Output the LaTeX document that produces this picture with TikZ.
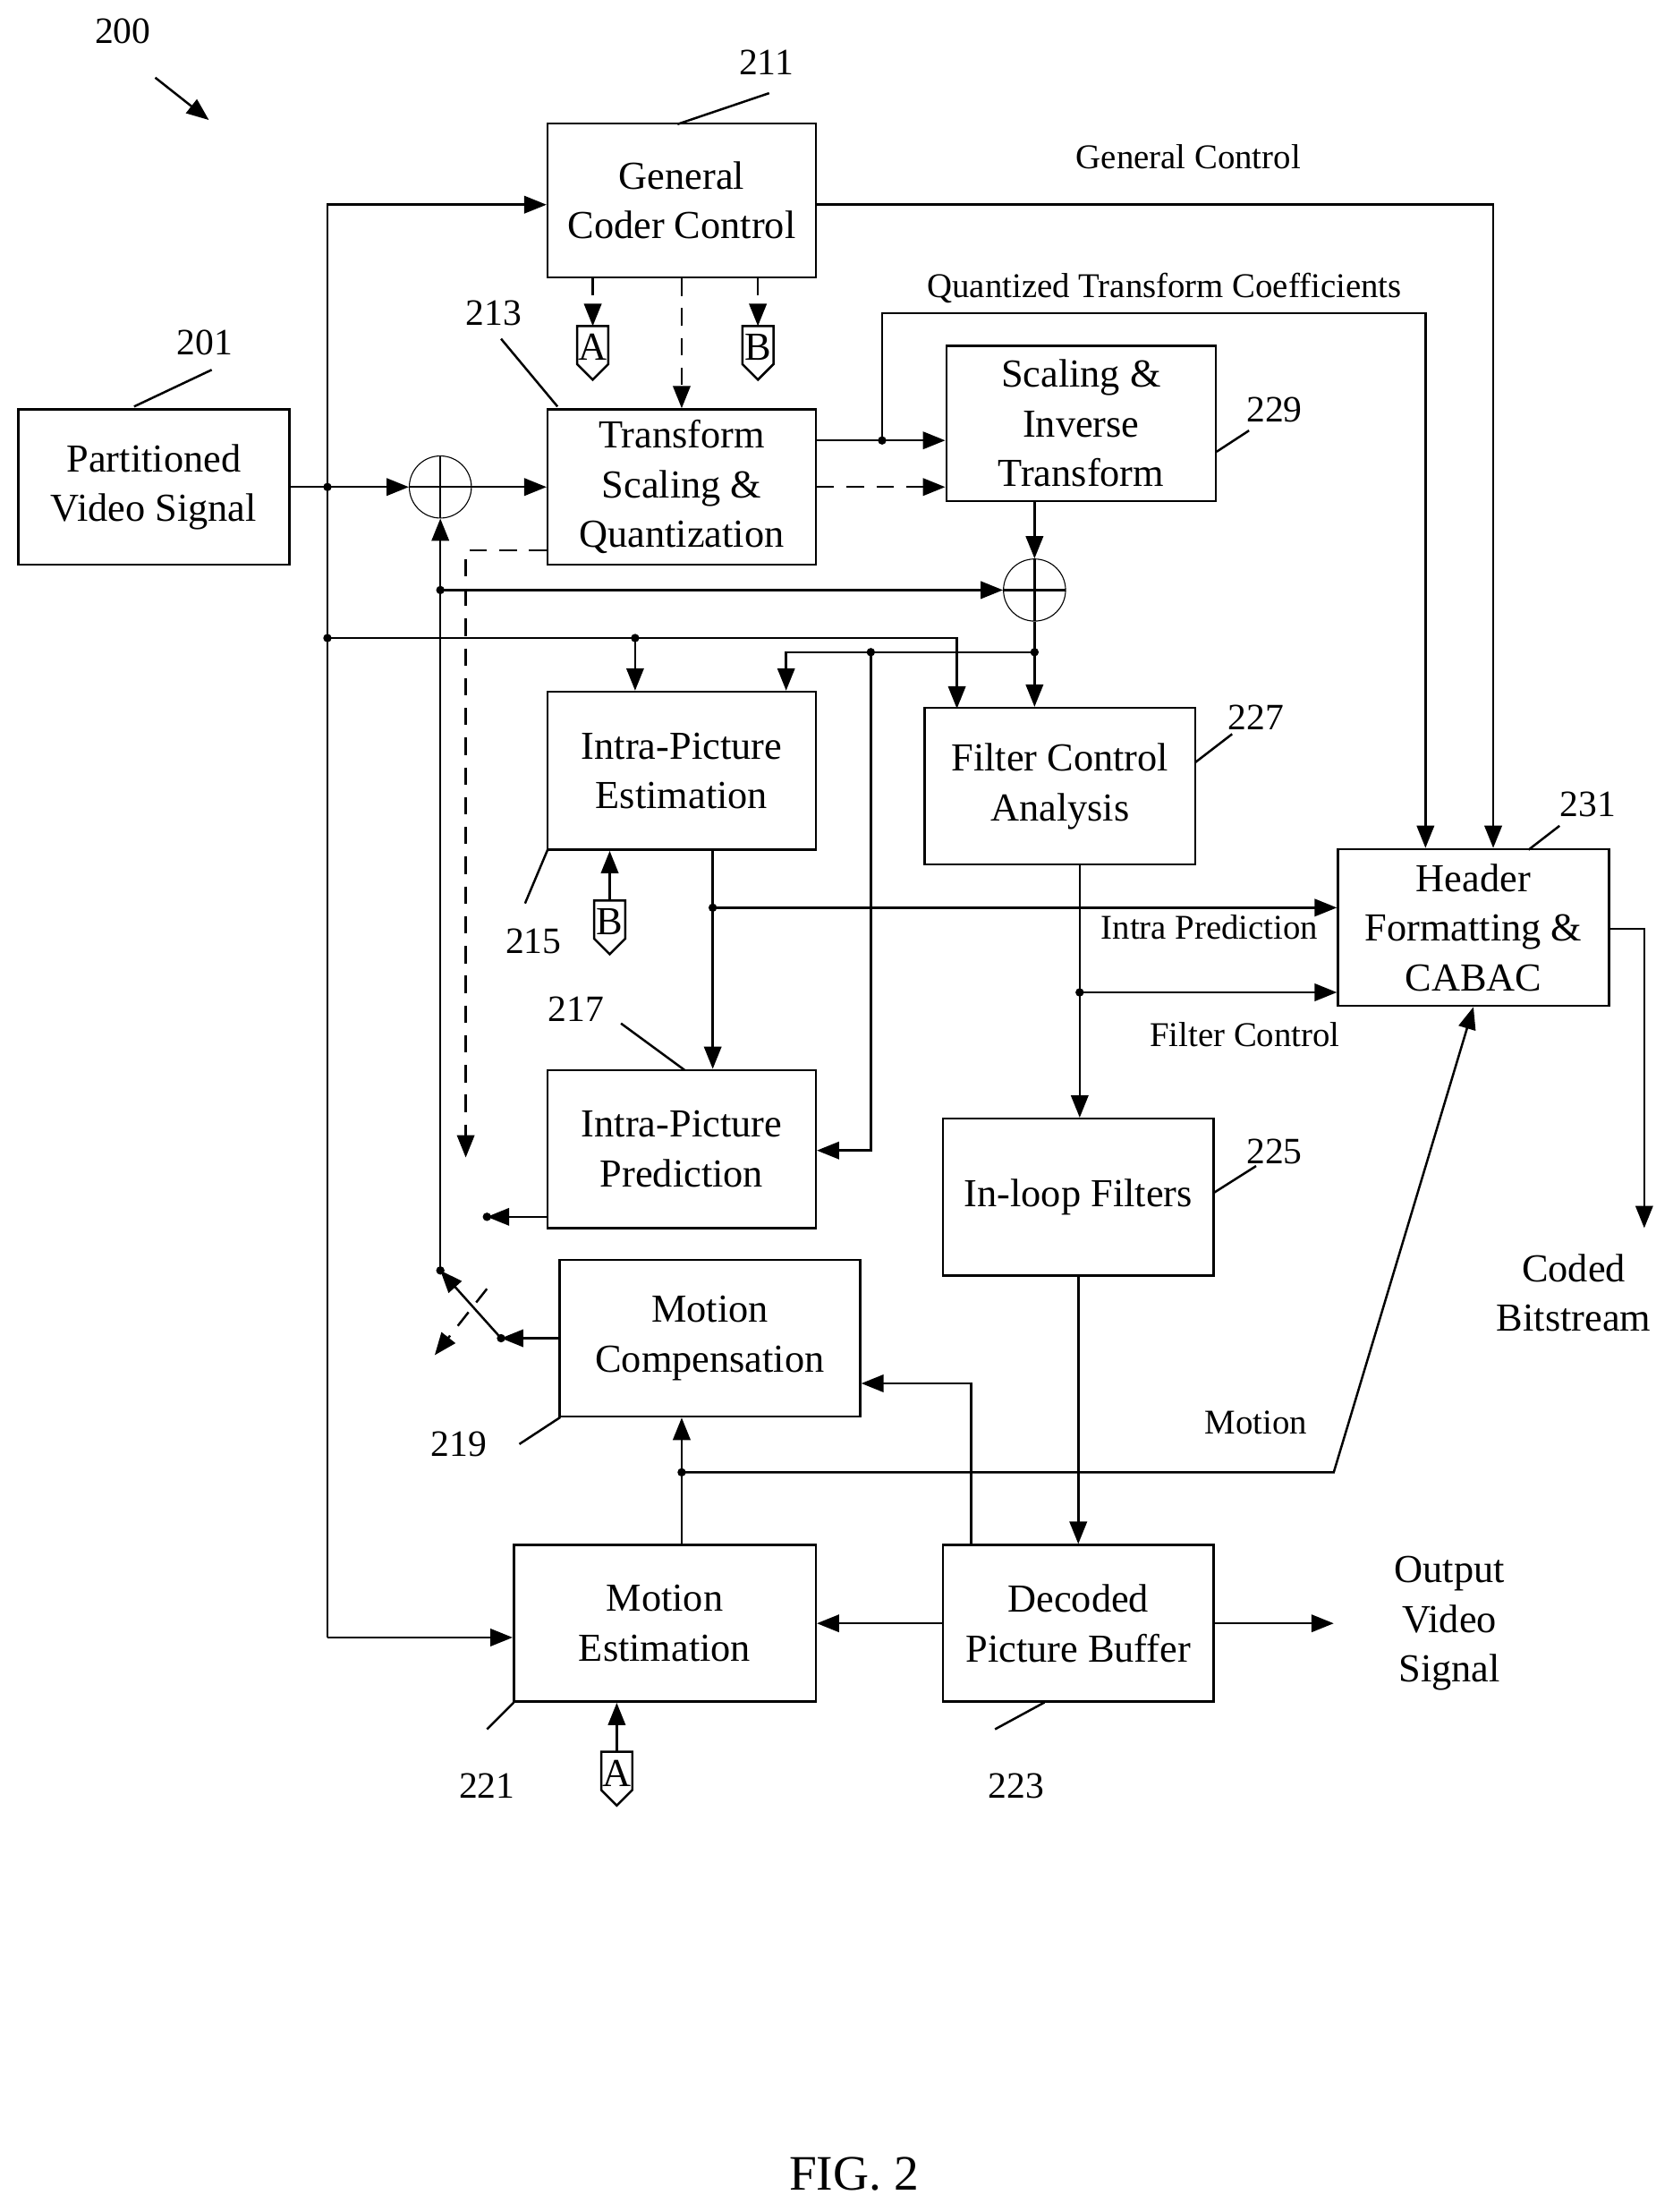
\documentclass[tikz,border=0pt]{standalone}
\usepackage{fontspec}
\setmainfont{Liberation Serif}
\usetikzlibrary{arrows.meta}

\tikzset{
  blk/.style={draw,line width=0.9pt,align=center,font=\fontsize{16}{20}\selectfont},
  lbl/.style={font=\fontsize{14}{17}\selectfont},
  ref/.style={font=\fontsize{15}{18}\selectfont},
  sig/.style={line width=0.9pt,-{Triangle[length=9pt,width=7pt]}},
  ln/.style={line width=0.9pt},
  dsh/.style={sig,dash pattern=on 7pt off 5pt},
  dot/.style={circle,fill,inner sep=1.2pt},
  sum/.style={circle,draw,thin,minimum size=0.88cm,inner sep=0pt,
    path picture={\draw[line width=0.9pt] (path picture bounding box.north) -- (path picture bounding box.south)
      (path picture bounding box.west) -- (path picture bounding box.east);}},
}
\newcommand\pent[4]{% name, letter, x, y
  \draw[line width=0.9pt] (#3-11,#4-19) -- (#3+11,#4-19) -- (#3+11,#4+8) -- (#3,#4+19) -- (#3-11,#4+8) -- cycle;
  \node[font=\fontsize{16}{18}\selectfont,inner sep=0pt] (#1) at (#3,#4-4) {#2};}

\begin{document}
\begin{tikzpicture}[x=0.02cm,y=-0.02cm]
\useasboundingbox (0,0) rectangle (1185,1567);
% blocks
\node[blk,minimum width=3.8cm,minimum height=2.18cm] (gcc) at (483,142) {General\\Coder Control};
\node[blk,minimum width=3.84cm,minimum height=2.2cm] (pvs) at (109,345) {Partitioned\\Video Signal};
\node[blk,minimum width=3.8cm,minimum height=2.2cm] (tsq) at (483,345) {Transform\\Scaling \&\\Quantization};
\node[blk,minimum width=3.82cm,minimum height=2.2cm] (sit) at (766,300) {Scaling \&\\Inverse\\Transform};
\node[blk,minimum width=3.8cm,minimum height=2.24cm] (ipe) at (483,546) {Intra-Picture\\Estimation};
\node[blk,minimum width=3.84cm,minimum height=2.22cm] (fca) at (751,557) {Filter Control\\Analysis};
\node[blk,minimum width=3.84cm,minimum height=2.22cm] (hdr) at (1044,657) {Header\\Formatting \&\\CABAC};
\node[blk,minimum width=3.8cm,minimum height=2.24cm] (ipp) at (483,814) {Intra-Picture\\Prediction};
\node[blk,minimum width=3.84cm,minimum height=2.22cm] (ilf) at (764,848) {In-loop Filters};
\node[blk,minimum width=4.26cm,minimum height=2.22cm] (mc) at (503,948) {Motion\\Compensation};
\node[blk,minimum width=4.28cm,minimum height=2.22cm] (me) at (471,1150) {Motion\\Estimation};
\node[blk,minimum width=3.84cm,minimum height=2.22cm] (dpb) at (764,1150) {Decoded\\Picture Buffer};
\node[sum] (s1) at (312,345) {};
\node[sum] (s2) at (733,418) {};
\pent{pa}{A}{420}{250}
\pent{pb}{B}{537}{250}
\pent{pb2}{B}{432}{657}
\pent{pa2}{A}{437}{1260}
% coordinates
\coordinate (j1) at (232,345);
\coordinate (j2) at (232,452);
\coordinate (j3) at (312,418);
\coordinate (j4) at (625,312);
\coordinate (j5) at (733,462);
\coordinate (j6) at (617,462);
\coordinate (j7) at (505,643);
\coordinate (j8) at (765,703);
\coordinate (j9) at (483,1043);
\coordinate (j10) at (450,452);
\coordinate (sw) at (312,900);
\coordinate (sw2) at (355,948);
\coordinate (ipo) at (345,862);
\coordinate (dso) at (330,820);
\coordinate (cbo) at (1165,870);
\coordinate (ovo) at (945,1150);
\coordinate (swo) at (308,960);
% connectors
\draw[sig] (pvs.east |- j1) -- (s1.west);
\draw[sig] (s1.east) -- (tsq.west);
\draw[sig] (232,1160) -- (232,145) -- (gcc.west |- 0,145);
\draw[sig] (232,1160) -- (me.west |- 0,1160);
\draw[sig] (j2) -- (678,452) -- (678,502);
\draw[sig] (j10) -- (ipe.north -| j10);
\draw[dsh] (gcc.south) -- (tsq.north);
\draw[dsh] (420,197) -- (420,231);
\draw[dsh] (537,197) -- (537,231);
\draw[sig] (gcc.east |- 0,145) -- (1058,145) -- (hdr.north -| 1058,0);
\draw[sig] (tsq.east |- j4) -- (sit.west |- j4);
\draw[sig] (j4) -- (625,222) -- (1010,222) -- (hdr.north -| 1010,0);
\draw[dsh] (tsq.east |- 0,345) -- (sit.west |- 0,345);
\draw[dsh] (tsq.west |- 0,390) -- (330,390) -- (dso);
\draw[sig] (sit.south -| s2) -- (s2.north);
\draw[sig] (sw) -- (s1.south);
\draw[sig] (j3) -- (s2.west);
\draw[sig] (s2.south) -- (fca.north -| s2);
\draw[sig] (j5) -- (557,462) -- (ipe.north -| 557,0);
\draw[sig] (j6) -- (617,815) -- (ipp.east |- 0,815);
\draw[sig] (ipe.south -| j7) -- (ipp.north -| j7);
\draw[sig] (j7) -- (hdr.west |- j7);
\draw[sig] (fca.south -| j8) -- (ilf.north -| j8);
\draw[sig] (j8) -- (hdr.west |- j8);
\draw[sig] (hdr.east |- 0,658) -- (1165,658) -- (cbo);
\draw[sig] (ilf.south) -- (dpb.north);
\draw[sig] (ipp.west |- ipo) -- (ipo);
\draw[sig] (mc.west |- sw2) -- (sw2);
\draw[sig] (sw2) -- (sw);
\draw[dsh] (345,913) -- (swo);
\draw[sig] (me.north -| j9) -- (mc.south -| j9);
\draw[sig] (j9) -- (945,1043) -- (hdr.south);
\draw[sig] (688,1095) -- (688,980) -- (mc.east |- 0,980);
\draw[sig] (dpb.west) -- (me.east);
\draw[sig] (dpb.east) -- (ovo);
\draw[sig] (437,1241) -- (me.south -| 437,0);
\draw[sig] (432,638) -- (ipe.south -| 432,0);
\foreach \p in {j1,j2,j3,j4,j5,j6,j7,j8,j9,j10,sw,sw2,ipo}
  \node[dot] at (\p) {};
% labels
\node[lbl] (gcl) at (842,111) {General Control};
\node[lbl] (qtc) at (825,204) {Quantized Transform Coefficients};
\node[lbl] (ipl) at (857,657) {Intra Prediction};
\node[lbl] (fcl) at (882,733) {Filter Control};
\node[lbl] (mol) at (890,1008) {Motion};
\node[blk,draw=none] (cbl) at (1115,916) {Coded\\Bitstream};
\node[blk,draw=none] (ovl) at (1027,1150) {Output\\Video\\Signal};
% reference numerals
\node[ref] (r200) at (87,22) {200};
\draw[sig] (110,55) -- (148,85);
\node[ref] at (543,44) {211};  \draw[ln] (480,88) -- (545,66);
\node[ref] at (145,243) {201}; \draw[ln] (95,288) -- (150,262);
\node[ref] at (350,222) {213}; \draw[ln] (355,240) -- (395,288);
\node[ref] at (903,290) {229}; \draw[ln] (862,320) -- (885,305);
\node[ref] at (890,508) {227}; \draw[ln] (847,540) -- (873,520);
\node[ref] at (1125,570) {231}; \draw[ln] (1083,602) -- (1105,585);
\node[ref] at (378,667) {215}; \draw[ln] (388,602) -- (372,640);
\node[ref] at (408,715) {217}; \draw[ln] (440,725) -- (485,758);
\node[ref] at (903,816) {225}; \draw[ln] (860,845) -- (890,826);
\node[ref] at (325,1023) {219}; \draw[ln] (368,1023) -- (397,1004);
\node[ref] at (345,1265) {221}; \draw[ln] (345,1225) -- (364,1206);
\node[ref] at (720,1265) {223}; \draw[ln] (705,1225) -- (740,1206);
\node[font=\fontsize{20}{24}\selectfont] at (605,1540) {FIG. 2};
\end{tikzpicture}
\end{document}
